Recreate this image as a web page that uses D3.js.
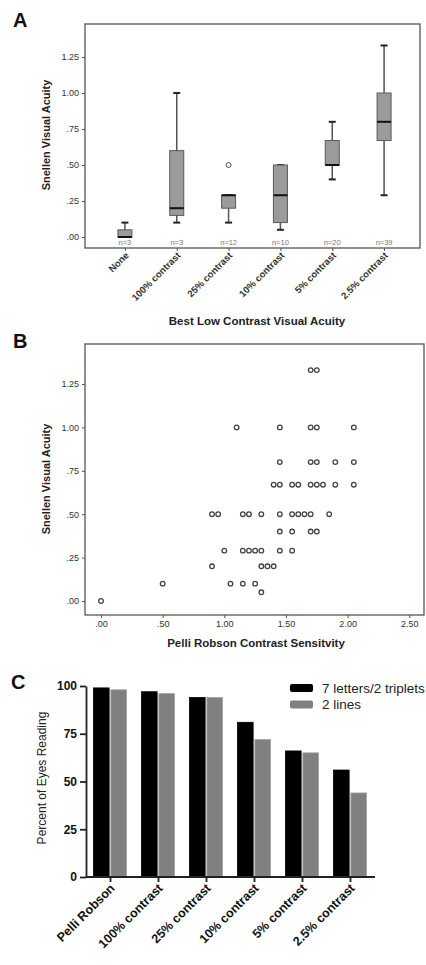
<!DOCTYPE html>
<html>
<head>
<meta charset="utf-8">
<style>
  body { margin: 0; background: #fff; }
  svg text { font-family: "Liberation Sans", Arial, sans-serif; }
</style>
<script src="https://cdn.jsdelivr.net/npm/d3@7"></script>
</head>
<body>
<script>
// ---- Panel A: box plot data ----
var boxCats = ["None", "100% contrast", "25% contrast", "10% contrast", "5% contrast", "2.5% contrast"];
var boxN = [3, 3, 12, 10, 20, 39];
var boxLow = [0.00, 0.10, 0.10, 0.05, 0.40, 0.29];
var boxQ1 = [0.00, 0.15, 0.20, 0.10, 0.50, 0.67];
var boxMed = [0.00, 0.20, 0.29, 0.29, 0.50, 0.80];
var boxQ3 = [0.05, 0.60, 0.29, 0.50, 0.67, 1.00];
var boxHigh = [0.10, 1.00, 0.29, 0.50, 0.80, 1.33];
var outlierCat = ["25% contrast"];
var outlierVal = [0.50];
var acuityTicks = [0, 0.25, 0.5, 0.75, 1.0, 1.25];

// ---- Panel B: scatter data (one row per Snellen value) ----
var scatterAcuity = [1.33, 1.00, 0.80, 0.67, 0.50, 0.40, 0.29, 0.20, 0.10, 0.05, 0.00];
var scatterCS = [
  [1.70, 1.75],
  [1.10, 1.45, 1.70, 1.75, 2.05],
  [1.45, 1.70, 1.75, 1.90, 2.05],
  [1.40, 1.45, 1.55, 1.60, 1.70, 1.75, 1.80, 1.90, 2.05],
  [0.90, 0.95, 1.15, 1.20, 1.30, 1.45, 1.55, 1.60, 1.65, 1.70, 1.85],
  [1.45, 1.55, 1.70, 1.75],
  [1.00, 1.15, 1.20, 1.25, 1.30, 1.45, 1.55],
  [0.90, 1.30, 1.35, 1.40],
  [0.50, 1.05, 1.15, 1.25],
  [1.30],
  [0.00]
];
var csTicks = [0, 0.5, 1.0, 1.5, 2.0, 2.5];

// ---- Panel C: bar data ----
var barCats = ["Pelli Robson", "100% contrast", "25% contrast", "10% contrast", "5% contrast", "2.5% contrast"];
var seriesNames = ["7 letters/2 triplets", "2 lines"];
var letters7 = [99, 97, 94, 81, 66, 56];
var lines2 = [98, 96, 94, 72, 65, 44];
var pctTicks = [0, 25, 50, 75, 100];

var fmt = function (v) { return d3.format(".2f")(v).replace(/^0/, ""); };

var svg = d3.select("body").append("svg")
  .attr("width", 426).attr("height", 965);

function panelLetter(t, x, y) {
  svg.append("text").attr("x", x).attr("y", y).text(t)
    .style("font-size", "20px").style("font-weight", "bold").style("fill", "#111");
}

// ================= Panel A =================
panelLetter("A", 13, 27);
var aY = d3.scaleLinear().domain([0, 1.25]).range([237, 57]);
var aX = d3.scalePoint().domain(boxCats).range([99, 410]).padding(0.5);
var gA = svg.append("g");

gA.append("rect").attr("x", 85).attr("y", 24).attr("width", 335).attr("height", 224)
  .attr("fill", "none").attr("stroke", "#555").attr("stroke-width", 1.3);

var axA = gA.append("g").attr("transform", "translate(85,0)")
  .call(d3.axisLeft(aY).tickValues(acuityTicks).tickFormat(fmt).tickSize(3));
axA.select(".domain").remove();
axA.selectAll("line").attr("stroke", "#555");
axA.selectAll("text").style("font-size", "9px").style("fill", "#333").style("font-family", "Liberation Sans, Arial");

var axAx = gA.append("g").attr("transform", "translate(0,248)")
  .call(d3.axisBottom(aX).tickSize(3));
axAx.select(".domain").remove();
axAx.selectAll("line").attr("stroke", "#555");
axAx.selectAll("text")
  .attr("text-anchor", "end").attr("dy", null).attr("y", 0)
  .attr("transform", "translate(4,8) rotate(-45)")
  .style("font-size", "9.5px").style("font-weight", "bold").style("fill", "#333")
  .style("font-family", "Liberation Sans, Arial");

var boxW = 14;
boxCats.forEach(function (c, i) {
  var cx = aX(c);
  var g = gA.append("g");
  g.append("line").attr("x1", cx).attr("x2", cx).attr("y1", aY(boxLow[i])).attr("y2", aY(boxHigh[i]))
    .attr("stroke", "#555").attr("stroke-width", 1.5);
  [boxLow[i], boxHigh[i]].forEach(function (v) {
    g.append("line").attr("x1", cx - 3.5).attr("x2", cx + 3.5).attr("y1", aY(v)).attr("y2", aY(v))
      .attr("stroke", "#222").attr("stroke-width", 2);
  });
  g.append("rect").attr("x", cx - boxW / 2).attr("y", aY(boxQ3[i]))
    .attr("width", boxW).attr("height", Math.max(0, aY(boxQ1[i]) - aY(boxQ3[i])))
    .attr("fill", "#9b9b9b").attr("stroke", "#5a5a5a").attr("stroke-width", 1);
  g.append("line").attr("x1", cx - boxW / 2).attr("x2", cx + boxW / 2)
    .attr("y1", aY(boxMed[i])).attr("y2", aY(boxMed[i]))
    .attr("stroke", "#111").attr("stroke-width", 2);
  g.append("text").attr("x", cx).attr("y", 245).attr("text-anchor", "middle")
    .text("n=" + boxN[i]).style("font-size", "7.5px").style("fill", "#777");
});
outlierCat.forEach(function (c, i) {
  gA.append("circle").attr("cx", aX(c)).attr("cy", aY(outlierVal[i])).attr("r", 2.5)
    .attr("fill", "none").attr("stroke", "#555").attr("stroke-width", 1);
});

gA.append("text").attr("transform", "translate(50,135) rotate(-90)").attr("text-anchor", "middle")
  .text("Snellen Visual Acuity").style("font-size", "11px").style("font-weight", "bold").style("fill", "#222");
gA.append("text").attr("x", 257).attr("y", 325).attr("text-anchor", "middle")
  .text("Best Low Contrast Visual Acuity").style("font-size", "11.5px").style("font-weight", "bold").style("fill", "#222");

// ================= Panel B =================
panelLetter("B", 13, 348);
var bY = d3.scaleLinear().domain([0, 1.25]).range([601, 384]);
var bX = d3.scaleLinear().domain([0, 2.5]).range([101, 409.3]);
var gB = svg.append("g");

gB.append("rect").attr("x", 85).attr("y", 344).attr("width", 339).attr("height", 271)
  .attr("fill", "none").attr("stroke", "#555").attr("stroke-width", 1.3);

var axB = gB.append("g").attr("transform", "translate(85,0)")
  .call(d3.axisLeft(bY).tickValues(acuityTicks).tickFormat(fmt).tickSize(3));
axB.select(".domain").remove();
axB.selectAll("line").attr("stroke", "#555");
axB.selectAll("text").style("font-size", "9px").style("fill", "#333").style("font-family", "Liberation Sans, Arial");

var axBx = gB.append("g").attr("transform", "translate(0,615)")
  .call(d3.axisBottom(bX).tickValues(csTicks).tickFormat(fmt).tickSize(3));
axBx.select(".domain").remove();
axBx.selectAll("line").attr("stroke", "#555");
axBx.selectAll("text").style("font-size", "9px").style("fill", "#333").style("font-family", "Liberation Sans, Arial");

scatterAcuity.forEach(function (a, i) {
  gB.selectAll(null).data(scatterCS[i]).enter().append("circle")
    .attr("cx", function (d) { return bX(d); })
    .attr("cy", bY(a))
    .attr("r", 2.3)
    .attr("fill", "none").attr("stroke", "#444").attr("stroke-width", 1.3);
});

gB.append("text").attr("transform", "translate(50,479) rotate(-90)").attr("text-anchor", "middle")
  .text("Snellen Visual Acuity").style("font-size", "11px").style("font-weight", "bold").style("fill", "#222");
gB.append("text").attr("x", 256).attr("y", 647).attr("text-anchor", "middle")
  .text("Pelli Robson Contrast Sensitvity").style("font-size", "11.5px").style("font-weight", "bold").style("fill", "#222");

// ================= Panel C =================
panelLetter("C", 11, 689);
var cY = d3.scaleLinear().domain([0, 100]).range([877, 686]);
var cX = d3.scalePoint().domain(barCats).range([86, 374]).padding(0.5);
var cInner = d3.scaleBand().domain(seriesNames).range([-16.5, 16.5]).paddingInner(0.1);
var colors = ["#000", "#808080"];
var seriesVals = [letters7, lines2];
var gC = svg.append("g");

seriesNames.forEach(function (s, si) {
  gC.selectAll(null).data(barCats).enter().append("rect")
    .attr("x", function (d) { return cX(d) + cInner(s); })
    .attr("y", function (d, i) { return cY(seriesVals[si][i]); })
    .attr("width", cInner.bandwidth())
    .attr("height", function (d, i) { return cY(0) - cY(seriesVals[si][i]); })
    .attr("fill", colors[si])
    .attr("stroke", si === 1 ? "#a0a0a0" : "#000").attr("stroke-width", 0.8);
});

var axC = gC.append("g").attr("transform", "translate(86,0)")
  .call(d3.axisLeft(cY).tickValues(pctTicks).tickSize(6).tickSizeOuter(0));
axC.selectAll("path, line").attr("stroke", "#222").attr("stroke-width", 1.8);
axC.selectAll("text").style("font-size", "12px").style("font-weight", "bold").style("fill", "#111")
  .style("font-family", "Liberation Sans, Arial");

var axCx = gC.append("g").attr("transform", "translate(0,877)")
  .call(d3.axisBottom(cX).tickSize(5).tickSizeOuter(0));
axCx.select(".domain").attr("d", "M86,0H375");
axCx.selectAll("path, line").attr("stroke", "#222").attr("stroke-width", 1.8);
axCx.selectAll("text")
  .attr("text-anchor", "end").attr("dy", null).attr("y", 0)
  .attr("transform", "translate(5,12) rotate(-45)")
  .style("font-size", "12.5px").style("font-weight", "bold").style("fill", "#111")
  .style("font-family", "Liberation Sans, Arial");

gC.append("text").attr("transform", "translate(46,778) rotate(-90)").attr("text-anchor", "middle")
  .text("Percent of Eyes Reading").style("font-size", "12px").style("fill", "#222");

// legend
var leg = gC.selectAll(null).data(seriesNames).enter().append("g")
  .attr("transform", function (d, i) { return "translate(290," + (684 + i * 16.5) + ")"; });
leg.append("rect").attr("width", 23).attr("height", 8).attr("rx", 2)
  .attr("fill", function (d, i) { return colors[i]; });
leg.append("text").attr("x", 32).attr("y", 8.5).text(function (d) { return d; })
  .style("font-size", "13.5px").style("fill", "#222");
</script>
</body>
</html>
